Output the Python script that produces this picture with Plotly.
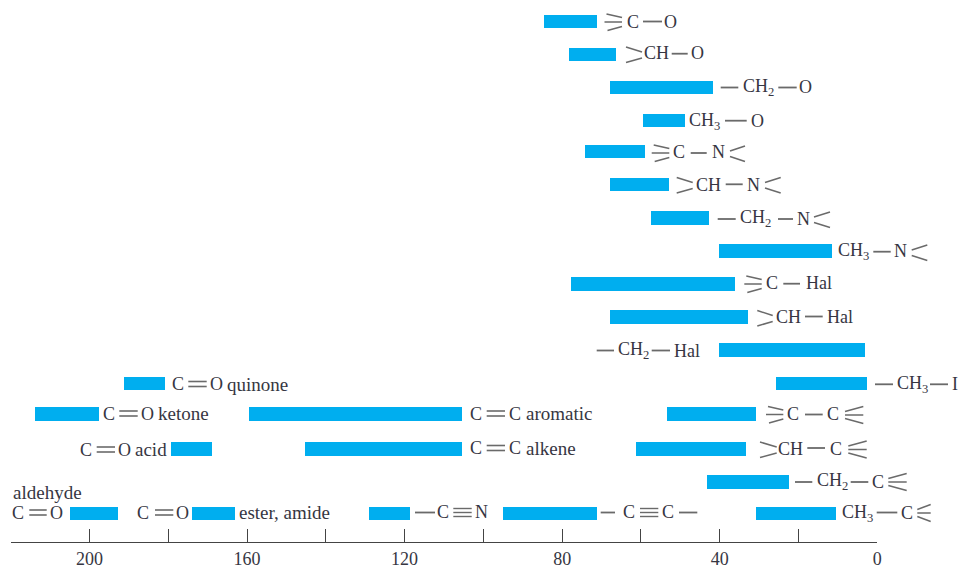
import plotly.graph_objects as go

# chemical shift ranges (ppm)
range_high = [84.6, 78.3, 67.9, 59.5, 74.3, 67.9, 57.5, 40.2, 77.8, 67.9, 40.2,
              191.3, 25.9, 214.0, 159.6, 53.5, 179.4, 145.4, 61.4, 43.2,
              205.0, 174.0, 129.1, 95.0, 30.8]
range_low = [71.3, 66.4, 41.7, 49.0, 59.0, 53.0, 42.7, 11.6, 36.2, 32.8, 3.2,
             180.9, 2.6, 197.7, 105.4, 30.8, 169.0, 105.4, 33.3, 22.4,
             192.8, 163.2, 118.7, 71.3, 10.6]
row_level = [21.5, 54.5, 87.5, 120.5, 151.5, 184.5, 218, 251, 284, 317, 350,
             383.5, 383.5, 414, 414, 414, 449, 449, 449, 482,
             513.5, 513.5, 513.5, 513.5, 513.5]
tick_values = [0, 40, 80, 120, 160, 200]
tick_labels = ["0", "40", "80", "120", "160", "200"]
minor_tick_values = [20, 60, 100, 140, 180, 220]

W, H = 959, 565
AXL, AXR, AXY = 10.7, 877.3, 542.3
TXT = "#363642"
BOND = "#6a6a6a"
FS = 18
WORD = 19

annotations, shapes = [], []


def px(x):
    return x / W


def py(y):
    return 1 - y / H


def t(x, y, s, size=FS):
    annotations.append(dict(xref="paper", yref="paper", x=px(x), y=py(y - 0.6), text=s,
                            showarrow=False, xanchor="left", yanchor="middle",
                            xshift=0, borderpad=0, borderwidth=0,
                            font=dict(family="Liberation Serif", size=size, color=TXT)))


def w(x, y, s):
    t(x, y - 0.5, s, WORD)


def ln(x0, y0, x1, y1, lw=1.5):
    shapes.append(dict(type="line", xref="paper", yref="paper",
                       x0=px(x0), y0=py(y0), x1=px(x1), y1=py(y1),
                       line=dict(color=BOND, width=lw)))


def bond(x0, x1, y):
    ln(x0, y, x1, y, 1.8)


def dbl(x0, x1, y):
    ln(x0, y - 2.5, x1, y - 2.5, 1.6)
    ln(x0, y + 2.5, x1, y + 2.5, 1.6)


def tpl(x0, x1, y):
    ln(x0, y - 4, x1, y - 4, 1.4)
    ln(x0, y, x1, y, 1.4)
    ln(x0, y + 4, x1, y + 4, 1.4)


def fork2(x0, x1, y):
    ln(x0, y - 7.5, x1, y - 2.5)
    ln(x0, y + 8, x1, y + 3.5)


def fork3(x0, x1, y):
    ln(x0 + 2, y - 8, x1, y - 4.5)
    ln(x0, y, x1, y)
    ln(x0 + 3, y + 8.5, x1, y + 4.5)


def rfork2(x0, x1, y):
    ln(x0, y - 1.5, x1, y - 6.5)
    ln(x0, y + 4, x1, y + 9)


def rfork3(x0, x1, y):
    ln(x0, y - 3, x1, y - 8)
    ln(x0, y + 0.5, x1, y + 0.5)
    ln(x0, y + 4, x1, y + 9)


CH2 = "CH<sub>2</sub>"
CH3 = "CH<sub>3</sub>"

# right-hand column of structural labels
fork3(604.5, 622, 22); t(627, 22.5, "C"); bond(643, 662, 21.5); t(664, 22.5, "O")
fork2(626, 642, 54.5); t(643.5, 54, "CH"); bond(671.7, 687.7, 53.7); t(691, 54, "O")
bond(720.7, 738.3, 87.5); t(743.3, 88, CH2); bond(778.3, 796.7, 87.5); t(799.3, 87.5, "O")
t(689.3, 122, CH3); bond(725, 746.7, 120.7); t(750.7, 122, "O")
fork3(651.7, 669.3, 153); t(672.7, 153, "C"); bond(690.7, 706.7, 153); t(711.7, 153, "N"); rfork2(730, 745, 152.5)
fork2(676.7, 692.7, 185); t(695.7, 185.5, "CH"); bond(725.7, 742.7, 184.3); t(746.7, 185.5, "N"); rfork2(765, 780.7, 184)
bond(717.7, 735.7, 219); t(740, 219.5, CH2); bond(778, 793, 219); t(796.7, 219.5, "N"); rfork2(814, 830, 218.5)
t(838.3, 252, CH3); bond(873.3, 890.7, 251.7); t(894, 252, "N"); rfork2(911.7, 927.3, 251.5)
fork3(744.3, 761.7, 284); t(766, 284, "C"); bond(783.3, 800, 283.7); t(805.7, 284, "Hal")
fork2(757.3, 772.7, 318); t(775.7, 318, "CH"); bond(805, 822.7, 316.5); t(826.7, 318, "Hal")
bond(596.7, 614, 350.5); t(618.3, 351.5, CH2); bond(651.7, 670, 350.5); t(674, 351.5, "Hal")
bond(875, 893, 384.3); t(896.7, 385, CH3); bond(930, 948, 384.3); t(951.7, 385, "I")

t(171.7, 385, "C"); dbl(188.3, 206.7, 384); t(210, 385, "O"); w(226.7, 386, "quinone")
t(102.7, 414.5, "C"); dbl(119.3, 137.7, 413.5); t(140.7, 414.5, "O"); w(158.3, 415, "ketone")
t(470, 414.5, "C"); dbl(486.7, 505, 413.5); t(509, 414.5, "C"); w(526, 415, "aromatic")
fork3(766, 783.3, 414.5); t(786.7, 414.5, "C"); bond(805, 822.7, 414.5); t(827.3, 414.5, "C"); rfork3(845, 863.3, 414.5)

t(80, 450.5, "C"); dbl(96.7, 115, 449.5); t(118.3, 450.5, "O"); w(135, 451, "acid")
t(470, 449, "C"); dbl(486.7, 505, 448); t(509, 449, "C"); w(526, 449.5, "alkene")
fork2(760, 776.7, 449.5); t(777.7, 449.5, "CH"); bond(807.3, 825, 448); t(830, 449.5, "C"); rfork3(848.3, 866.7, 449)

bond(795, 812.3, 482); t(816.7, 482.5, CH2); bond(850.7, 868.3, 482); t(871.7, 482.5, "C"); rfork3(888.3, 906.7, 481.5)

w(13.3, 494, "aldehyde")
t(11.7, 513.5, "C"); dbl(29.3, 46.7, 512.5); t(50, 513.5, "O")
t(137.3, 513.5, "C"); dbl(155, 173.3, 512.5); t(176, 513.5, "O"); w(239.3, 514, "ester, amide")
bond(415, 435, 512.5); t(437.3, 513, "C"); tpl(453.3, 471.7, 512.5); t(475, 513, "N")
bond(600.7, 615, 512.5); t(623.3, 513, "C"); tpl(640, 658.3, 512.5); t(661.7, 513, "C"); bond(679, 697.3, 512.5)
t(841.7, 514, CH3); bond(876.7, 897.3, 512.5); t(900.7, 513.5, "C"); rfork3(917.3, 930.7, 512.5)

fig = go.Figure(go.Bar(
    orientation="h",
    y=row_level,
    base=range_low,
    x=[h - l for h, l in zip(range_high, range_low)],
    width=13.4,
    marker=dict(color="#00aeef", line=dict(width=0)),
    hoverinfo="skip",
))

fig.update_layout(
    template="none",
    width=W, height=H,
    margin=dict(l=0, r=0, t=0, b=0, pad=0, autoexpand=False),
    paper_bgcolor="white", plot_bgcolor="white",
    showlegend=False, bargap=0,
    annotations=annotations, shapes=shapes,
    xaxis=dict(domain=[AXL / W, AXR / W], range=[220, 0], anchor="y", automargin=False,
               tickmode="array", tickvals=tick_values, ticktext=tick_labels,
               showgrid=False, zeroline=False, showline=True,
               linecolor="#444444", linewidth=1.4,
               ticks="inside", ticklen=13, tickwidth=1.4, tickcolor="#444444",
               minor=dict(tickmode="array", tickvals=minor_tick_values, ticks="inside",
                          ticklen=13, tickwidth=1.4, tickcolor="#444444", showgrid=False),
               tickangle=0,
               tickfont=dict(family="Liberation Serif", size=18, color=TXT)),
    yaxis=dict(domain=[1 - AXY / H, 1], range=[AXY, 0], visible=False, automargin=False),
)
fig.write_html("out.html", config=dict(displayModeBar=False),
               post_script="document.documentElement.style.overflow='hidden';document.body.style.margin='0';document.body.style.padding='0';")
